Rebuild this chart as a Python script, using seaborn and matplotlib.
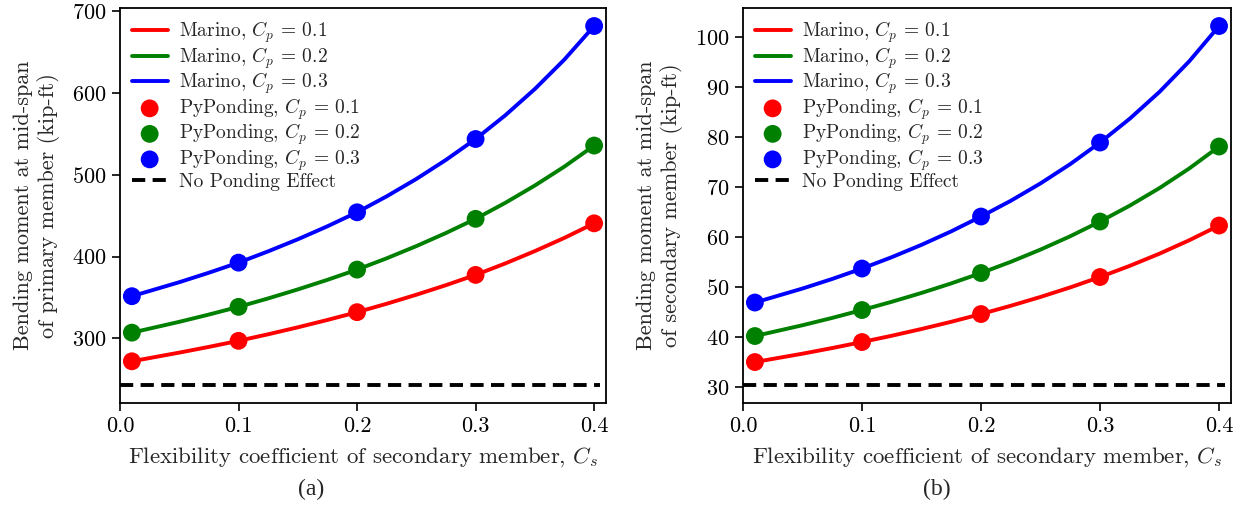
import numpy as np
import pandas as pd
import matplotlib
matplotlib.use("Agg")
import matplotlib.pyplot as plt
import seaborn as sns

# ============================================================
# DATA
# ============================================================
cs_points = [0.01, 0.1, 0.2, 0.3, 0.4]
cs_curve = [0.01, 0.05, 0.075, 0.1, 0.125, 0.15, 0.175, 0.2, 0.225,
            0.25, 0.275, 0.3, 0.325, 0.35, 0.375, 0.4]
cp_labels = ["0.1", "0.2", "0.3"]
colors = ["red", "green", "blue"]

# (a) primary member, kip-ft
primary_pyponding = [
    [272.0, 297.0, 332.0, 377.5, 440.5],
    [307.0, 338.5, 384.0, 446.0, 535.5],
    [351.5, 392.5, 454.0, 543.5, 681.5],
]
primary_marino = [
    [272.0, 282.6, 289.6, 297.0, 305.0, 313.5, 322.5, 332.0, 342.3,
     353.3, 365.0, 377.5, 391.5, 406.6, 422.8, 440.5],
    [307.0, 320.2, 329.1, 338.5, 348.8, 359.8, 371.5, 384.0, 397.8,
     412.7, 428.7, 446.0, 465.5, 486.7, 509.9, 535.5],
    [351.5, 368.6, 380.2, 392.5, 406.3, 421.0, 436.9, 454.0, 473.5,
     494.7, 518.0, 543.5, 572.4, 604.6, 640.7, 681.5],
]
primary_no_ponding = 243.0

# (b) secondary member, kip-ft
secondary_pyponding = [
    [35.0, 39.0, 44.6, 52.0, 62.3],
    [40.2, 45.4, 52.8, 63.1, 78.1],
    [46.9, 53.7, 64.1, 78.9, 102.2],
]
secondary_marino = [
    [35.0, 36.67, 37.80, 39.0, 40.26, 41.61, 43.05, 44.6, 46.25,
     48.02, 49.93, 52.0, 54.24, 56.68, 59.36, 62.3],
    [40.2, 42.36, 43.83, 45.4, 47.05, 48.82, 50.73, 52.8, 55.04,
     57.49, 60.16, 63.1, 66.28, 69.8, 73.72, 78.1],
    [46.9, 49.70, 51.62, 53.7, 55.97, 58.44, 61.14, 64.1, 67.25,
     70.73, 74.59, 78.9, 83.67, 89.04, 95.16, 102.2],
]
secondary_no_ponding = 30.4

no_ponding_cs = [0.0, 0.405]

# ============================================================
# STYLE
# ============================================================
sns.set_style("ticks")
plt.rcParams["font.family"] = ["cmr10", "DejaVu Serif"]
plt.rcParams["mathtext.fontset"] = "cm"
plt.rcParams["axes.formatter.use_mathtext"] = True
plt.rcParams["axes.unicode_minus"] = False
plt.rcParams["axes.edgecolor"] = "black"
plt.rcParams["axes.linewidth"] = 1.3
plt.rcParams["xtick.color"] = "black"
plt.rcParams["ytick.color"] = "black"


def draw_panel(ax, marino, pyponding, no_ponding, ylabel):
    for i, cp in enumerate(cp_labels):
        df_line = pd.DataFrame({"cs": cs_curve, "m": marino[i]})
        sns.lineplot(data=df_line, x="cs", y="m", ax=ax, color=colors[i],
                     linewidth=2.8, label=f"Marino, $C_p$ = {cp}")
    for i, cp in enumerate(cp_labels):
        df_pts = pd.DataFrame({"cs": cs_points, "m": pyponding[i]})
        sns.scatterplot(data=df_pts, x="cs", y="m", ax=ax, color=colors[i],
                        s=165, edgecolor="none", zorder=3,
                        label=f"PyPonding, $C_p$ = {cp}")
    df_np = pd.DataFrame({"cs": no_ponding_cs, "m": [no_ponding] * len(no_ponding_cs)})
    sns.lineplot(data=df_np, x="cs", y="m", ax=ax, color="black",
                 linewidth=2.8, label="No Ponding Effect")
    ax.get_lines()[-1].set_dashes((3.4, 1.9))

    ax.set_xlim(0, 0.41)
    ax.set_xticks([0.0, 0.1, 0.2, 0.3, 0.4])
    ax.set_xticklabels(["0.0", "0.1", "0.2", "0.3", "0.4"])
    ax.tick_params(labelsize=16, length=6, width=1.2, direction="out")
    ax.set_xlabel("Flexibility coefficient of secondary member, $C_s$", fontsize=16.5, labelpad=7)
    ax.set_ylabel(ylabel, fontsize=16, labelpad=9)
    for sp in ax.spines.values():
        sp.set_visible(True)
    leg = ax.legend(loc="upper left", frameon=False, fontsize=14,
                    handlelength=1.85, handletextpad=0.57, labelspacing=0.0,
                    borderaxespad=0.2, borderpad=0.4)
    return leg


fig = plt.figure(figsize=(12.41, 5.05), dpi=100)
ax1 = fig.add_axes([0.0967, 0.202, 0.3916, 0.782])
ax2 = fig.add_axes([0.5987, 0.202, 0.3932, 0.782])

draw_panel(ax1, primary_marino, primary_pyponding, primary_no_ponding,
           "Bending moment at mid-span\nof primary member (kip-ft)")
draw_panel(ax2, secondary_marino, secondary_pyponding, secondary_no_ponding,
           "Bending moment at mid-span\nof secondary member (kip-ft)")
ax1.set_yticks([300, 400, 500, 600, 700])
ax2.set_yticks([30, 40, 50, 60, 70, 80, 90, 100])

fig.text(311 / 1241, 1 - 489 / 505, "(a)", family="Liberation Serif", fontsize=17,
         ha="center", va="center")
fig.text(937 / 1241, 1 - 489 / 505, "(b)", family="Liberation Serif", fontsize=17,
         ha="center", va="center")

plt.savefig("out.png", dpi=100)
plt.close()
